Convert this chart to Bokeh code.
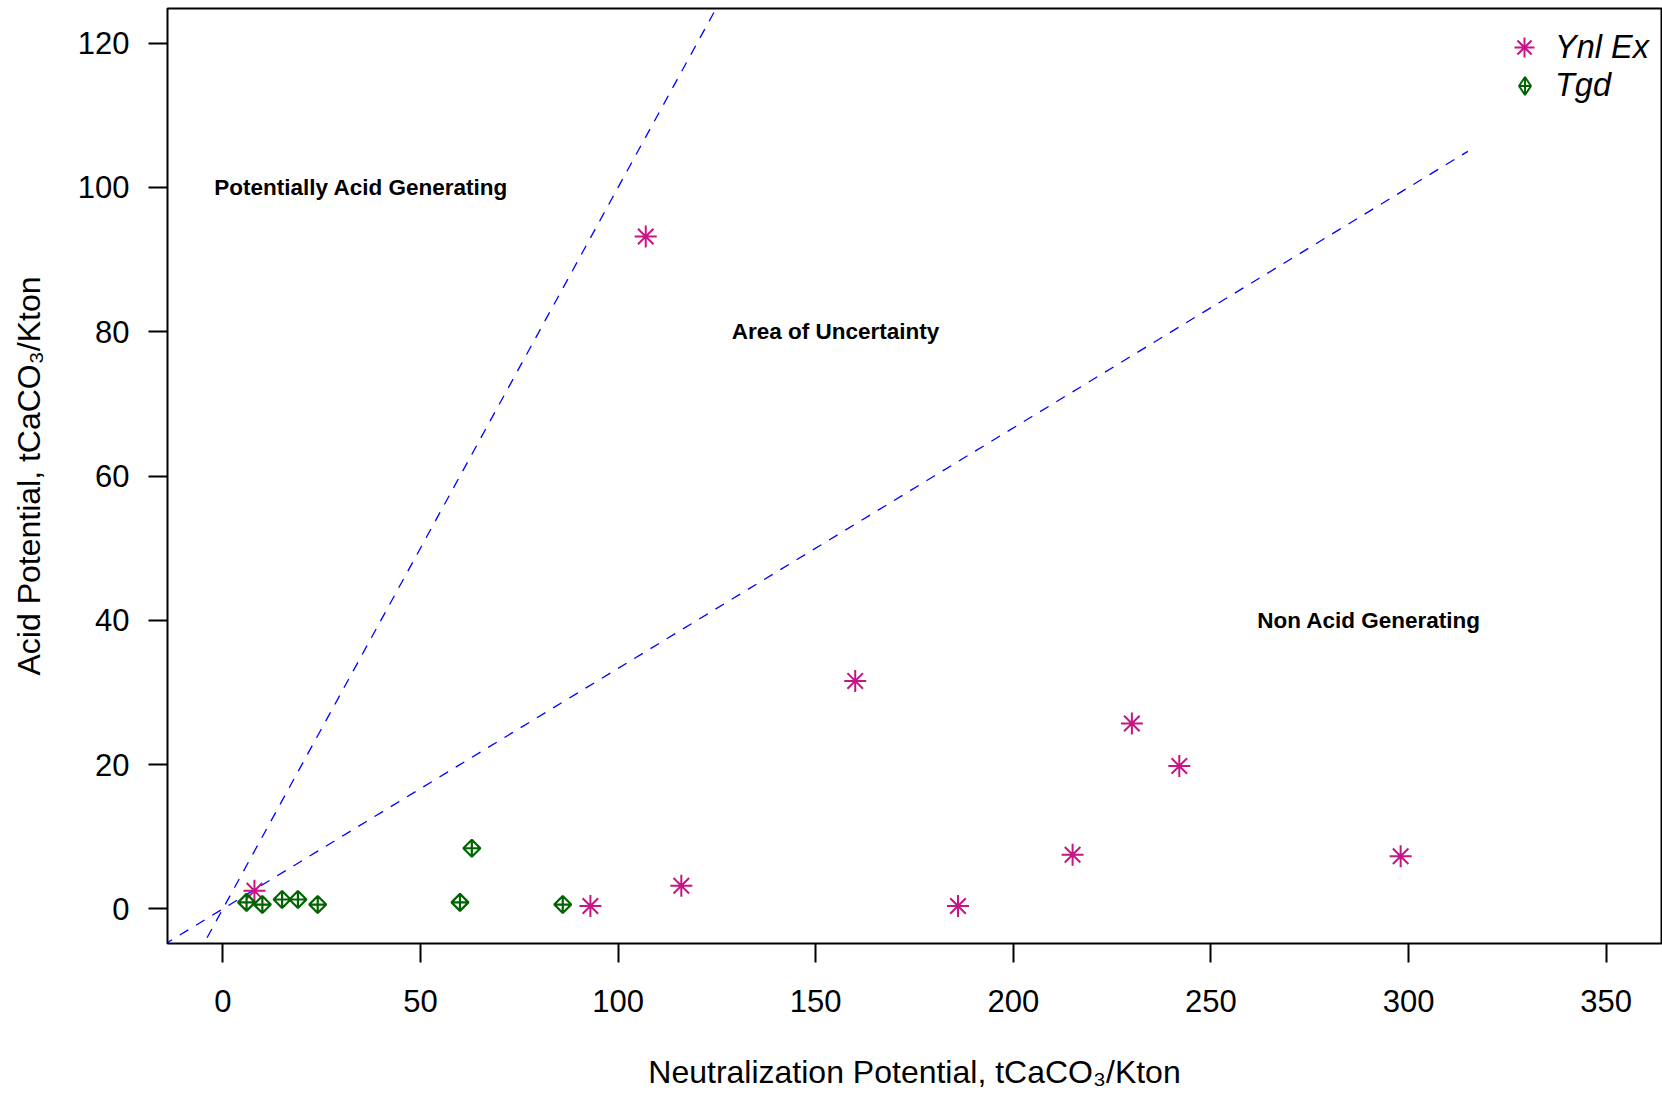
import numpy as np
from bokeh.plotting import figure
from bokeh.models import FixedTicker, Legend, LegendItem, Range1d
from bokeh.embed import file_html
from bokeh.resources import INLINE
from bokeh.core.properties import value

# ---- data ----
ynl_np = [8.0, 93.0, 107.0, 116.0, 160.0, 186.0, 215.0, 230.0, 242.0, 298.0]
ynl_ap = [2.5, 0.4, 93.2, 3.2, 31.6, 0.4, 7.5, 25.7, 19.8, 7.3]
tgd_np = [6.0, 10.0, 15.0, 19.0, 24.0, 60.0, 63.0, 86.0]
tgd_ap = [0.9, 0.6, 1.3, 1.3, 0.6, 0.9, 8.4, 0.6]

x_ticks = [0, 50, 100, 150, 200, 250, 300, 350]
y_ticks = [0, 20, 40, 60, 80, 100, 120]

# NPR reference lines (AP = NP / ratio)
npr1_np = [-4.0, 130.0]
npr1_ratio = 1.0
npr3_np = [-15.0, 315.0]
npr3_ratio = 3.0

region_x = [35, 155, 290]
region_y = [100, 80, 40]
region_text = ["Potentially Acid Generating", "Area of Uncertainty", "Non Acid Generating"]

FONT = "Liberation Sans"
MAGENTA = "#C71585"
GREEN = "#006400"

p = figure(width=1662, height=1093, output_backend="svg", toolbar_location=None,
           x_range=Range1d(-14.0, 364.0), y_range=Range1d(-4.8, 124.8),
           min_border_left=167, min_border_right=1, min_border_top=8, min_border_bottom=150)
p.grid.visible = False
p.outline_line_color = "black"
p.outline_line_width = 2
p.background_fill_color = "white"
p.border_fill_color = "white"

for ax, ticks in ((p.xaxis[0], x_ticks), (p.yaxis[0], y_ticks)):
    ax.ticker = FixedTicker(ticks=ticks)
    ax.axis_line_color = None
    ax.major_tick_out = 19
    ax.major_tick_in = 0
    ax.minor_tick_out = 0
    ax.minor_tick_in = 0
    ax.major_tick_line_width = 2
    ax.major_tick_line_color = "black"
    ax.major_label_text_font = FONT
    ax.major_label_text_font_size = "31px"
    ax.major_label_text_color = "black"
    ax.axis_label_text_font = FONT
    ax.axis_label_text_font_size = "32px"
    ax.axis_label_text_font_style = "normal"
    ax.axis_label_text_color = "black"

p.xaxis.axis_label = "Neutralization Potential, tCaCO\u2083/Kton"
p.yaxis.axis_label = "Acid Potential, tCaCO\u2083/Kton"
p.xaxis.major_label_standoff = 27
p.xaxis.axis_label_standoff = 39
p.yaxis.major_label_standoff = 19
p.yaxis.axis_label_standoff = 28

# reference lines
p.line(npr1_np, [v / npr1_ratio for v in npr1_np], line_color="#0000FF", line_width=1.3, line_dash="10 9")
p.line(npr3_np, [v / npr3_ratio for v in npr3_np], line_color="#0000FF", line_width=1.3, line_dash="10 9")

# region labels
p.text(x=region_x, y=region_y, text=region_text, text_font=value(FONT), text_font_style="bold",
       text_font_size="22.5px", text_align="center", text_baseline="middle", text_color="black")

r_ynl = p.scatter(ynl_np, ynl_ap, marker="asterisk", size=22, line_color=MAGENTA, line_width=2)
r_tgd = p.scatter(tgd_np, tgd_ap, marker="square_x", angle=np.pi / 4, size=12, line_color=GREEN,
                  fill_color=None, line_width=2.2)

# legend key glyph for Tgd (diamond with cross; NaN placeholder so nothing is drawn in the plot)
r_tgd_key = p.scatter(x=[np.nan], y=[np.nan], marker="diamond_cross", line_color=GREEN,
                      fill_color=None, line_width=2)

leg1 = Legend(items=[LegendItem(label="Ynl Ex", renderers=[r_ynl])], location=(1332, 871),
              glyph_width=50, glyph_height=50, label_standoff=6, padding=0, margin=0,
              border_line_color=None, background_fill_alpha=0, label_text_color="black",
              label_text_font=FONT, label_text_font_size="32.5px", label_text_font_style="italic")
leg2 = Legend(items=[LegendItem(label="Tgd", renderers=[r_tgd_key])], location=(1335, 835),
              glyph_width=45, glyph_height=45, label_height=30, label_standoff=8, padding=0, margin=0,
              border_line_color=None, background_fill_alpha=0, label_text_color="black",
              label_text_font=FONT, label_text_font_size="32.5px", label_text_font_style="italic")
p.add_layout(leg1)
p.add_layout(leg2)

open("out.html", "w").write(file_html(p, INLINE))
